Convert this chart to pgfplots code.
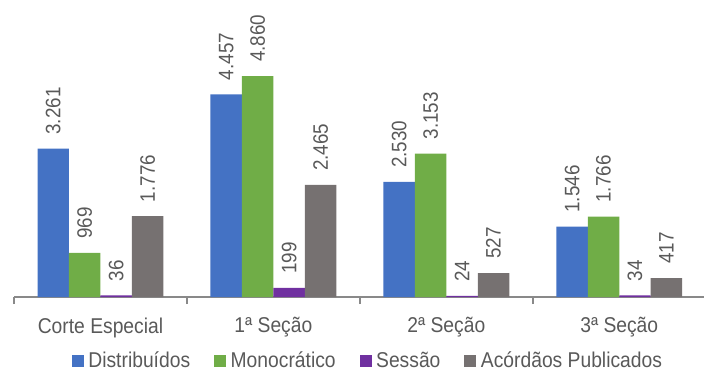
\documentclass[border=0pt]{standalone}
\usepackage{pgfplots}
\pgfplotsset{compat=1.18}
\usepackage{fontspec}
\setmainfont{Liberation Sans}[FakeStretch=0.9]
\definecolor{cblue}{HTML}{4472C4}
\definecolor{cgreen}{HTML}{70AD47}
\definecolor{cpurple}{HTML}{7030A0}
\definecolor{cgray}{HTML}{767171}
\definecolor{txt}{HTML}{595959}
\definecolor{axc}{HTML}{898989}
\begin{document}
\begin{tikzpicture}
\begin{axis}[
  scale only axis, width=690bp, height=297bp,
  xmin=-0.5, xmax=3.49, ymin=0, ymax=6532,
  clip=false,
  axis y line=none, axis x line*=bottom,
  x axis line style={draw=axc, line width=1.5bp, -},
  xtick={0,1,2,3},
  xticklabels={Corte Especial, 1ª Seção, 2ª Seção, 3ª Seção},
  major tick length=0pt,
  major x tick style={draw=none},
  minor xtick={-0.5,0.5,1.5,2.5},
  minor x tick style={draw=axc, line width=1.5bp},
  minor tick length=7bp, tick align=outside,
  xticklabel style={font=\fontsize{21.5}{23}\selectfont, text=txt, yshift=-17bp},
  ybar=0pt, bar width=0.182,
  /pgf/number format/assume math mode=true,
  /pgf/number format/1000 sep={.},
  nodes near coords,
  nodes near coords style={rotate=90, anchor=west, inner xsep=14bp, font=\fontsize{21}{22}\selectfont, text=txt},
  legend style={draw=none, fill=none, at={(0.513,-0.214)}, anchor=center, legend columns=-1,
    font=\fontsize{21.5}{23}\selectfont, text=txt, inner sep=0pt,
    nodes={inner ysep=0pt},
    /tikz/every odd column/.append style={column sep=2.5bp},
    /tikz/every even column/.append style={column sep=22bp}},
  legend image code/.code={\fill[#1] (0bp,-6bp) rectangle (12bp,6bp);},
]
\addplot[fill=cblue, draw=none] coordinates {(0,3261) (1,4457) (2,2530) (3,1546)};
\addplot[fill=cgreen, draw=none] coordinates {(0,969) (1,4860) (2,3153) (3,1766)};
\addplot[fill=cpurple, draw=none] coordinates {(0,36) (1,199) (2,24) (3,34)};
\addplot[fill=cgray, draw=none] coordinates {(0,1776) (1,2465) (2,527) (3,417)};
\legend{Distribuídos, Monocrático, Sessão, Acórdãos Publicados}
\coordinate (O) at (rel axis cs:0,0);
\end{axis}
\pgfresetboundingbox
\path[use as bounding box] (O) ++(-14bp,-74bp) rectangle ++(704bp,371bp);
\end{tikzpicture}
\end{document}
